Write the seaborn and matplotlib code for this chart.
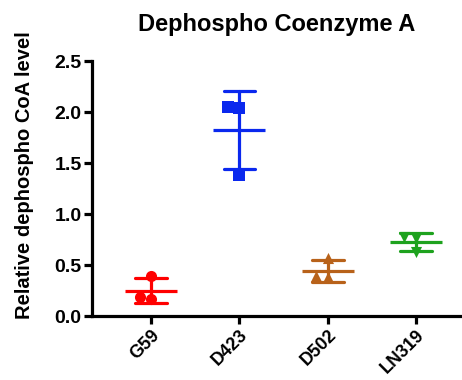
import matplotlib
matplotlib.use("Agg")
import matplotlib.pyplot as plt
import seaborn as sns
import pandas as pd

categories = ["G59", "D423", "D502", "LN319"]
g59 = [0.39, 0.17, 0.19]
d423 = [2.05, 2.04, 1.38]
d502 = [0.57, 0.38, 0.39]
ln319 = [0.78, 0.77, 0.63]
colors = ["#FF0000", "#0A28EE", "#B8621A", "#1EA21E"]
markers = ["o", "s", "^", "v"]
yticks = [0.0, 0.5, 1.0, 1.5, 2.0, 2.5]

series = [g59, d423, d502, ln319]
df = pd.DataFrame({
    "cell": [c for c, s in zip(categories, series) for _ in s],
    "value": [v for s in series for v in s],
})

sns.set_style("ticks")
plt.rcParams["font.family"] = ["Liberation Sans", "DejaVu Sans"]
plt.rcParams["font.weight"] = "bold"
plt.rcParams["text.color"] = "black"

fig = plt.figure(figsize=(4.62, 3.8), dpi=100)
ax = fig.add_axes([0.199, 0.168, 0.801, 0.671])

lw = 2.3
for cat, col, mk in zip(categories, colors, markers):
    sub = df[df["cell"] == cat]
    sns.swarmplot(data=sub, x="cell", y="value", order=categories, color=col,
                  marker=mk, size=8, linewidth=0, ax=ax, zorder=3)

sns.pointplot(data=df, x="cell", y="value", order=categories, hue="cell",
              hue_order=categories, palette=colors, errorbar="sd", capsize=0.36,
              marker="_", markersize=38, markeredgewidth=lw, linestyle="none",
              err_kws={"linewidth": lw}, legend=False, ax=ax, zorder=4)

ax.set_xlim(-0.67, 3.52)
ax.set_ylim(0, 2.5)
ax.set_yticks(yticks)
ax.set_yticklabels([f"{t:.1f}" for t in yticks], fontsize=14, fontweight="bold", color="black")
ax.set_xticks(range(len(categories)))
ax.set_xticklabels(categories, rotation=45, ha="right", rotation_mode="anchor",
                   fontsize=13, fontweight="bold", color="black")
ax.set_xlabel("")
ax.set_ylabel("Relative dephospho CoA level", fontsize=14.5, fontweight="bold", color="black")
ax.yaxis.set_label_coords(-0.157, 0.555)
ax.set_title("Dephospho Coenzyme A", fontsize=17, fontweight="bold", color="black", pad=22)

for side in ["top", "right"]:
    ax.spines[side].set_visible(False)
for side in ["left", "bottom"]:
    ax.spines[side].set_linewidth(2.3)
    ax.spines[side].set_color("black")
ax.tick_params(axis="both", length=5.5, width=2.3, color="black", labelcolor="black", pad=2)

fig.savefig("out.png", dpi=100)
